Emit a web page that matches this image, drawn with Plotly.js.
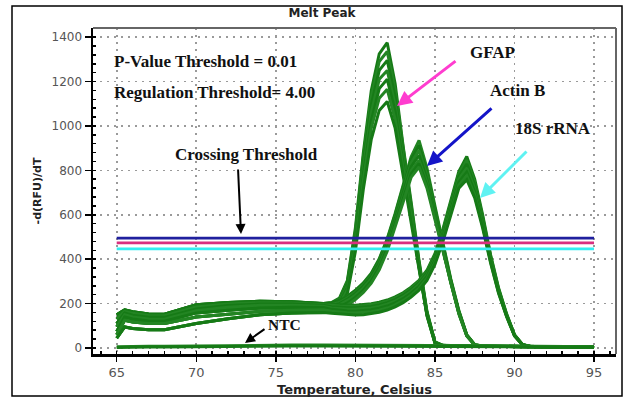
<!DOCTYPE html>
<html>
<head>
<meta charset="utf-8">
<script src="https://cdn.plot.ly/plotly-3.0.1.min.js"></script>
<style>
  html, body { margin: 0; padding: 0; background: #ffffff; }
  #chart { width: 624px; height: 398px; }
</style>
</head>
<body>
<div id="chart"></div>
<script>
// Temperature grid (Celsius)
const temps = [65, 65.5, 66, 67, 68, 70, 72, 74, 76, 78, 78.5, 79, 79.5, 80, 80.5, 81, 81.5, 82, 82.5, 83, 83.5, 84, 84.5, 85, 85.5, 86, 86.5, 87, 87.5, 88, 88.5, 89, 89.5, 90, 90.5, 91, 92, 93.5, 95];

// GFAP melt peaks (-d(RFU)/dT)
const gfap1 = [150,172,163,153,152,195,205,210,208,200, 205,225,305,540,880,1160,1325,1375,1190,910,660,395,165, 28,12,10,9,9,8,8,8,7,7,7,7,6,6,6,5];
const gfap2 = [130,165,156,146,145,185,198,204,203,196, 200,220,298,525,860,1130,1290,1335,1160,890,645,385,160, 27,12,10,9,9,8,8,8,7,7,7,7,6,6,6,5];
const gfap3 = [110,158,148,139,138,176,191,198,198,192, 196,215,290,510,835,1095,1250,1295,1130,870,630,378,157, 26,11,10,9,9,8,8,8,7,7,7,7,6,6,6,5];
const gfap4 = [95,150,140,131,130,168,184,192,193,188, 192,210,282,495,810,1060,1210,1250,1095,850,615,370,154, 25,11,9,9,8,8,8,7,7,7,7,6,6,6,5,5];
const gfap5 = [75,140,131,122,121,158,170,180,184,182, 186,203,272,478,782,1022,1168,1210,1065,830,600,362,150, 24,11,9,9,8,8,8,7,7,7,7,6,6,6,5,5];
const gfap6 = [60,125,117,110,110,140,152,165,170,172, 176,194,262,460,755,990,1125,1165,1030,805,585,355,147, 23,10,9,8,8,8,7,7,7,7,6,6,6,5,5,5];
const gfap7 = [45,95,88,82,82,110,132,150,158,160, 165,182,245,435,715,940,1070,1110,990,780,570,348,144, 22,10,9,8,8,8,7,7,7,7,6,6,6,5,5,5];

// Actin B melt peaks
const actin1 = [130,165,156,146,145,185,198,204,203,196, 200,212,233,260,293,337,402,492,606,730,860,935,810,640,475,310,170,60,15, 9,8,8,7,7,7,6,6,6,5];
const actin2 = [150,172,163,153,152,195,205,210,208,200, 204,214,232,258,290,334,398,487,600,722,848,912,792,628,467,305,167,59,15, 9,8,8,7,7,7,6,6,6,5];
const actin3 = [110,158,148,139,138,176,191,198,198,192, 196,205,225,251,284,327,390,478,590,710,832,890,776,617,460,300,164,58,14, 9,8,8,7,7,7,6,6,6,5];
const actin4 = [95,150,140,131,130,168,184,192,193,188, 192,200,220,246,278,321,383,470,580,698,816,868,760,606,452,296,161,57,14, 9,8,8,7,7,6,6,6,5,5];
const actin5 = [75,140,131,122,121,158,170,180,184,182, 186,194,213,238,270,312,373,459,568,684,798,846,744,595,445,292,158,56,14, 9,8,7,7,7,6,6,6,5,5];
const actin6 = [60,125,117,110,110,140,152,165,170,172, 175,184,203,228,260,302,362,448,556,670,784,830,732,587,440,288,156,55,13, 9,8,7,7,7,6,6,6,5,5];
const actin7 = [45,95,88,82,82,110,132,150,158,160, 163,173,193,218,250,292,352,436,543,656,768,815,720,578,434,284,154,54,13, 9,8,7,7,7,6,6,6,5,5];

// 18S rRNA melt peaks
const rrna1 = [150,172,163,153,152,195,205,210,208,200, 196,193,192,193,195,199,206,216,230,249,274,305,350,425,535,665,795,862,760,600,420,270,155,60,16, 7,6,6,5];
const rrna2 = [130,165,156,146,145,185,198,204,203,196, 192,189,188,188,190,194,201,211,225,244,269,300,344,418,527,655,784,845,746,590,413,266,152,59,16, 7,6,6,5];
const rrna3 = [110,158,148,139,138,176,191,198,198,192, 186,183,181,181,183,187,194,204,218,237,262,293,337,410,518,645,772,828,732,580,406,262,150,58,15, 7,6,6,5];
const rrna4 = [95,150,140,131,130,168,184,192,193,188, 180,176,174,174,176,180,187,197,211,230,255,286,330,402,509,634,760,810,718,570,400,258,148,57,15, 7,6,5,5];
const rrna5 = [75,140,131,122,121,158,170,180,184,182, 174,170,167,166,168,172,179,189,203,222,247,278,322,394,500,623,747,792,704,560,394,254,146,56,15, 7,6,5,5];
const rrna6 = [60,125,117,110,110,140,152,165,170,172, 166,162,159,158,159,163,170,180,194,213,238,269,313,385,489,611,733,775,690,550,388,250,144,55,14, 7,6,5,5];
const rrna7 = [45,95,88,82,82,110,132,150,158,160, 156,153,150,149,150,154,161,171,185,204,229,260,304,376,479,599,719,758,676,540,382,246,142,54,14, 7,6,5,5];

// No-template controls
const ntc1 = [6,7,7,8,8,10,12,13,13,13,13,13,13,12,12,12,12,12,12,12,11,11,11,11,11,10,10,10,10,10,9,9,9,9,8,8,8,7,6];
const ntc2 = [2,3,3,4,4,6,8,9,9,9,9,9,9,9,8,8,8,8,8,8,8,7,7,7,7,7,7,6,6,6,6,6,6,5,5,5,5,4,3];

// Threshold lines (value, start/end temperature)
const thresholdNames = ["Actin B threshold", "GFAP threshold", "18S rRNA threshold"];
const thresholdValues = [495, 473, 446];
const thresholdSpan = [65, 95];
const thresholdColors = ["#20209e", "#d8307f", "#33eef2"];

// Labels
const yTickVals = [0, 200, 400, 600, 800, 1000, 1200, 1400];
const xTickVals = [65, 70, 75, 80, 85, 90, 95];

const curves = [gfap1, gfap2, gfap3, gfap4, gfap5, gfap6, gfap7,
                actin1, actin2, actin3, actin4, actin5, actin6, actin7,
                rrna1, rrna2, rrna3, rrna4, rrna5, rrna6, rrna7,
                ntc1, ntc2];

const traces = [];
curves.forEach((c, i) => {
  traces.push({
    x: temps, y: c, type: 'scatter', mode: 'lines',
    line: { color: (i % 2 === 0) ? '#167a16' : '#238523', width: 3 },
    hoverinfo: 'skip', showlegend: false
  });
});
thresholdValues.forEach((v, i) => {
  traces.push({
    x: thresholdSpan, y: [v, v], type: 'scatter', mode: 'lines', name: thresholdNames[i],
    line: { color: thresholdColors[i], width: 2.8 }, showlegend: false
  });
});

// helpers: pixel -> paper coordinates (plot area 93..616 x 28..354)
const L = 93, R = 616, T = 28, B = 354;
const px = x => (x - L) / (R - L);
const py = y => (B - y) / (B - T);

const serif = { family: 'Liberation Serif, Times New Roman, serif', size: 17, color: '#111' };
function label(text, left, cy, size) {
  return { xref: 'paper', yref: 'paper', x: px(left), y: py(cy), xanchor: 'left', yanchor: 'middle',
           text: '<b>' + text + '</b>', showarrow: false,
           font: Object.assign({}, serif, size ? { size: size } : {}) };
}
function arrow(tipX, tipY, tailX, tailY, color, w) {
  return { xref: 'paper', yref: 'paper', x: px(tipX), y: py(tipY), ax: tailX - tipX, ay: tailY - tipY,
           axref: 'pixel', ayref: 'pixel', text: '', showarrow: true, arrowhead: 2, arrowsize: 1,
           arrowwidth: w, arrowcolor: color, standoff: 0 };
}

const layout = {
  width: 624, height: 398,
  margin: { l: L, r: 624 - R, t: T, b: 398 - B, pad: 0 },
  paper_bgcolor: '#ffffff', plot_bgcolor: '#ffffff',
  title: { text: '<b>Melt Peak</b>', x: 322 / 624, xref: 'container', xanchor: 'center',
           y: 1 - 13 / 398, yref: 'container', yanchor: 'middle',
           font: { family: 'DejaVu Sans', size: 12, color: '#222' } },
  xaxis: {
    range: [63.51, 96.38], tickvals: xTickVals, ticktext: xTickVals.map(String),
    showline: true, linecolor: '#000', linewidth: 2.5,
    ticks: 'outside', ticklen: 5, tickwidth: 1.5, tickcolor: '#000',
    minor: { dtick: 1, tick0: 65, ticks: 'inside', ticklen: 3, tickwidth: 1.5, tickcolor: '#000', showgrid: false },
    showgrid: true, gridcolor: '#9a9a9a', gridwidth: 1.6, griddash: '2px,5px',
    zeroline: false,
    tickfont: { family: 'DejaVu Sans', size: 13, color: '#555' },
    title: { text: '<b>Temperature, Celsius</b>', standoff: 6,
             font: { family: 'DejaVu Sans', size: 13, color: '#222' } },
    automargin: false, fixedrange: true
  },
  yaxis: {
    range: [-27, 1441], tickvals: yTickVals, ticktext: yTickVals.map(String),
    showline: true, linecolor: '#000', linewidth: 2.5,
    ticks: 'outside', ticklen: 6, tickwidth: 1.5, tickcolor: '#000',
    minor: { dtick: 40, tick0: 0, ticks: 'inside', ticklen: 3, tickwidth: 1.5, tickcolor: '#000', showgrid: false },
    showgrid: true, gridcolor: '#9a9a9a', gridwidth: 1.6, griddash: '2px,5px',
    zeroline: false,
    tickfont: { family: 'DejaVu Sans', size: 12, color: '#555' },
    title: { text: '<b>-d(RFU)/dT</b>', standoff: 8,
             font: { family: 'DejaVu Sans', size: 11, color: '#222' } },
    automargin: false, fixedrange: true
  },
  shapes: [
    { type: 'line', xref: 'paper', yref: 'paper', x0: 0, x1: 1, y0: 1, y1: 1, line: { color: '#666', width: 2 } },
    { type: 'line', xref: 'paper', yref: 'paper', x0: 1, x1: 1, y0: 0, y1: 1, line: { color: '#666', width: 2 } },
    { type: 'rect', xref: 'paper', yref: 'paper', x0: px(12), x1: px(622), y0: py(396), y1: py(6),
      line: { color: '#000', width: 1.5 } }
  ],
  annotations: [
    label('P-Value Threshold = 0.01', 112, 62),
    label('Regulation Threshold= 4.00', 112, 92),
    label('Crossing Threshold', 173, 154),
    label('GFAP', 468, 52),
    label('Actin B', 488, 90),
    label('18S rRNA', 513, 128),
    label('NTC', 266, 324, 15.5),
    arrow(241, 234, 238, 168, '#000', 2),
    arrow(397, 106, 457, 60, '#ff3ccf', 3),
    arrow(427, 166, 493, 107, '#1414c8', 3),
    arrow(480, 198, 528, 150, '#5ff2f2', 3),
    arrow(245, 343, 266, 328, '#000', 2)
  ]
};

Plotly.newPlot('chart', traces, layout, { staticPlot: true, displayModeBar: false });
</script>
</body>
</html>
